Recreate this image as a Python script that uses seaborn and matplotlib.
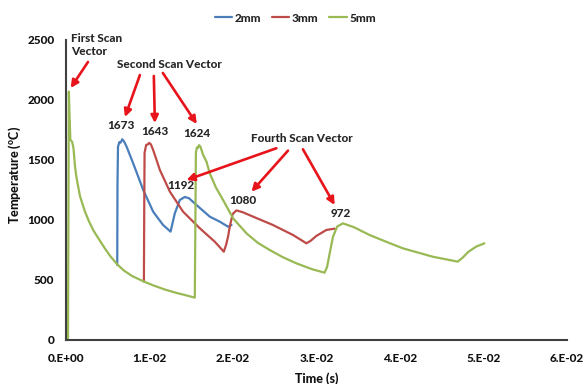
import numpy as np
import pandas as pd
import matplotlib
matplotlib.use("Agg")
import matplotlib.pyplot as plt
import seaborn as sns

# Time in milliseconds, temperature in degC
t_2mm = [6.19, 6.22, 6.28, 6.45, 6.60, 6.79, 7.00, 7.31, 8.10, 9.30, 10.49, 11.68,
         12.57, 13.08, 13.68, 14.28, 14.80, 15.67, 17.26, 18.46, 19.45, 19.86]
T_2mm = [625, 1300, 1610, 1650, 1645, 1673, 1655, 1611, 1472, 1250, 1069, 958,
         903, 1056, 1167, 1192, 1180, 1125, 1028, 986, 944, 958]

t_3mm = [9.38, 9.42, 9.46, 9.65, 9.85, 10.01, 10.22, 10.49, 11.29, 12.49, 14.07,
         16.07, 17.86, 18.94, 19.20, 19.45, 19.65, 20.00, 20.45, 21.20, 22.44,
         24.83, 27.22, 28.82, 29.30, 30.01, 31.21, 32.20]
T_3mm = [487, 1100, 1560, 1625, 1630, 1643, 1630, 1583, 1417, 1236, 1069,
         931, 819, 736, 790, 861, 944, 1050, 1080, 1065, 1028,
         958, 875, 806, 825, 867, 917, 928]

t_5mm = [0.30, 0.40, 0.47, 0.58, 0.80, 0.95, 1.05, 1.13, 1.30, 1.50, 1.73, 2.00,
         2.33, 2.80, 3.32, 4.00, 4.72, 5.40, 6.19, 7.00, 8.00, 9.38, 10.50, 12.00,
         13.30, 14.28, 15.47, 15.53, 15.60, 15.72, 15.85, 15.98, 16.15, 16.45,
         16.87, 17.26, 18.00, 18.85, 20.05, 21.65, 23.00, 24.43, 26.00, 27.62,
         29.50, 31.00, 31.30, 31.60, 32.00, 32.50, 33.19, 34.50, 36.38, 38.50,
         40.36, 43.94, 46.93, 47.50, 48.20, 49.13, 50.12]
T_5mm = [0, 2070, 1900, 1670, 1650, 1600, 1520, 1450, 1360, 1285, 1200, 1140,
         1070, 990, 915, 840, 762, 695, 630, 578, 532, 487, 455, 418,
         392, 375, 353, 900, 1560, 1605, 1600, 1624, 1610, 1545,
         1486, 1389, 1270, 1167, 1014, 889, 810, 750, 690, 639,
         590, 561, 610, 720, 860, 945, 972, 940, 875, 815,
         764, 694, 653, 685, 735, 778, 806]

series = ["2mm", "3mm", "5mm"]
colors = ["#4A7EBB", "#BE4B48", "#98B954"]

x_ticks = [0.0, 0.01, 0.02, 0.03, 0.04, 0.05, 0.06]
x_tick_labels = ["0.E+00", "1.E-02", "2.E-02", "3.E-02", "4.E-02", "5.E-02", "6.E-02"]
y_ticks = [0, 500, 1000, 1500, 2000, 2500]

# Peak labels: time of peak in ms, peak temperature, label offset in px
peak_t = [6.79, 10.01, 15.98, 14.28, 20.45, 33.19]
peak_T = [1673, 1643, 1624, 1192, 1080, 972]
peak_offsets = [(-1, 14), (6, 11), (-2, 12), (-4, 11), (6, 10), (-2, 10)]

frames = []
for name, t, T in [("2mm", t_2mm, T_2mm), ("3mm", t_3mm, T_3mm), ("5mm", t_5mm, T_5mm)]:
    frames.append(pd.DataFrame({"Time": np.array(t) / 1000.0, "Temperature": T, "Series": name}))
df = pd.concat(frames, ignore_index=True)

sns.set_theme(style="white")
plt.rcParams["font.family"] = ["Lato", "DejaVu Sans"]
plt.rcParams["font.weight"] = "black"
plt.rcParams["mathtext.fontset"] = "custom"
plt.rcParams["mathtext.rm"] = "Lato:black"
plt.rcParams["mathtext.bf"] = "Lato:black"

W = "black"
FS = 8.5

fig = plt.figure(figsize=(5.84, 3.84), dpi=100)
ax = fig.add_axes([65.5 / 584, 44 / 384, 501.5 / 584, 300 / 384])

sns.lineplot(data=df, x="Time", y="Temperature", hue="Series", hue_order=series,
             palette=colors, estimator=None, sort=False, linewidth=1.6, ax=ax)
for line in ax.get_lines():
    line.set_solid_joinstyle("round")
    line.set_solid_capstyle("round")

ax.set_xlim(0, 0.06)
ax.set_ylim(0, 2500)
ax.set_xticks(x_ticks)
ax.set_xticklabels(x_tick_labels)
ax.set_yticks(y_ticks)
ax.tick_params(axis="both", length=0, labelsize=FS, colors="#111111")
ax.tick_params(axis="y", pad=8)
ax.tick_params(axis="x", pad=9)
for lab in ax.get_xticklabels() + ax.get_yticklabels():
    lab.set_fontweight(W)

for side in ["top", "right"]:
    ax.spines[side].set_visible(False)
for side in ["left", "bottom"]:
    ax.spines[side].set_color("#404040")
    ax.spines[side].set_linewidth(1.5)

ax.set_xlabel("Time (s)", fontsize=9, fontweight=W, labelpad=6, color="#111111")
ax.set_ylabel(r"Temperature ($\mathregular{^{o}}$C)", fontsize=9, fontweight=W, color="#111111")
ax.yaxis.set_label_coords(-0.085, 0.55)

sns.move_legend(ax, "center", bbox_to_anchor=(0.458, 1.073), ncol=3, frameon=False,
                title=None, fontsize=FS, handlelength=1.5, handletextpad=0.2,
                columnspacing=0.9)
for txt in ax.get_legend().get_texts():
    txt.set_fontweight(W)

arrow_red = "#E8141B"
arrow_kw = dict(arrowstyle="-|>", color=arrow_red, lw=1.9, mutation_scale=11,
                shrinkA=0, shrinkB=0)

def to_s(ms):
    return ms / 1000.0

# Group labels
ax.text(to_s(0.62), 2458, "First Scan\nVector", ha="left", va="center", fontsize=FS,
        fontweight=W, linespacing=1.3)
ax.text(to_s(12.45), 2300, "Second Scan Vector", ha="center", va="center",
        fontsize=FS, fontweight=W)
ax.text(to_s(28.26), 1681, "Fourth Scan Vector", ha="center", va="center",
        fontsize=FS, fontweight=W)

# Arrows (tail -> tip), in ms / degC
arrows = [((2.69, 2317), (0.62, 2100)),
          ((8.90, 2208), (7.11, 1858)),
          ((10.57, 2200), (10.69, 1808)),
          ((11.65, 2225), (15.71, 1800)),
          ((25.23, 1598), (14.48, 1333)),
          ((26.62, 1578), (22.25, 1236)),
          ((28.41, 1589), (32.20, 1125))]
for (tx, ty), (hx, hy) in arrows:
    ax.annotate("", xy=(to_s(hx), hy), xytext=(to_s(tx), ty), arrowprops=arrow_kw)

# Peak values
for t, T, (dx, dy) in zip(peak_t, peak_T, peak_offsets):
    ax.annotate(f"{T}", xy=(to_s(t), T), xytext=(dx, dy), textcoords="offset pixels",
                ha="center", va="center", fontsize=FS, fontweight=W)

fig.savefig("out.png", dpi=100)
